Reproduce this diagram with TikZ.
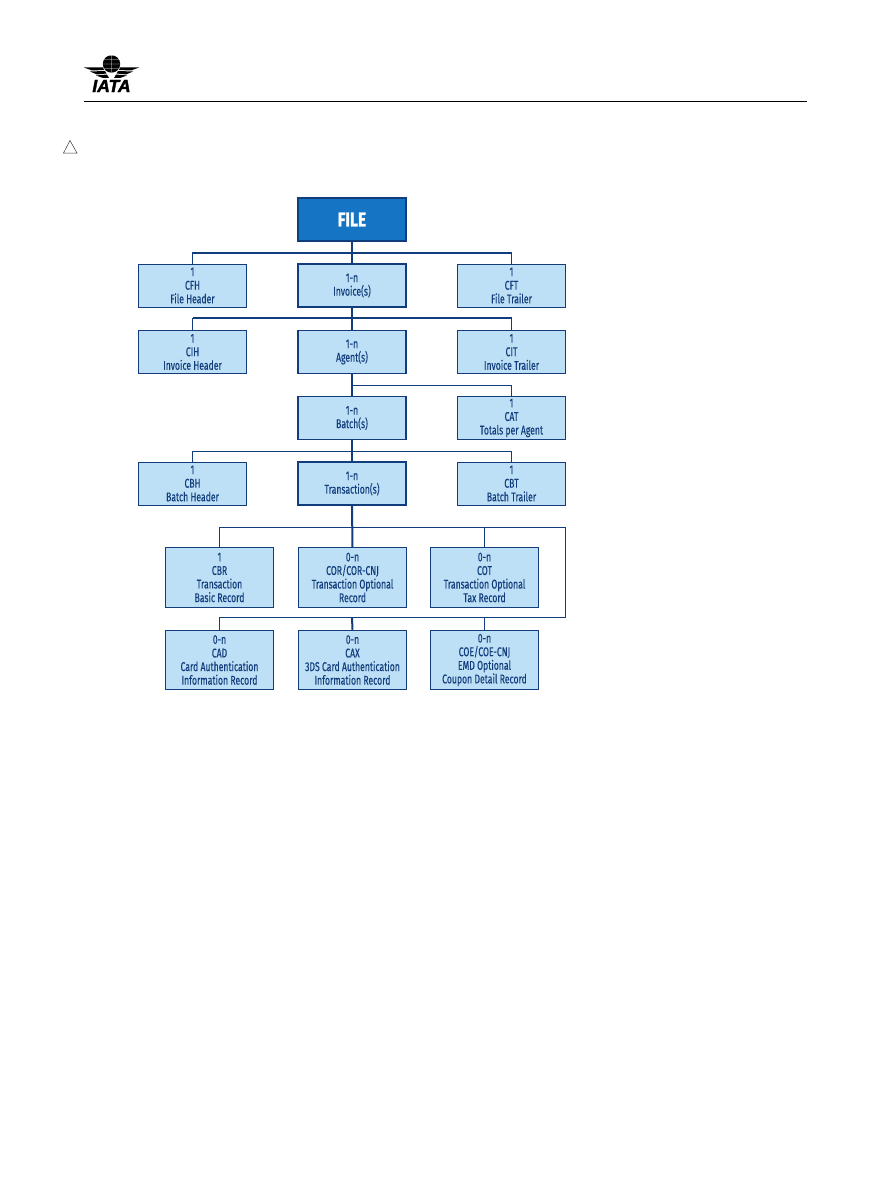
\documentclass[tikz,border=0pt]{standalone}
\usepackage{fontspec}
\setmainfont[FakeStretch=0.68,FakeBold=0.25]{Fira Sans}
\newfontfamily\filefont[FakeStretch=0.78,FakeBold=1]{Fira Sans}
\newfontfamily\logofont[FakeBold=2]{Liberation Sans}
\definecolor{rulecol}{HTML}{123D7C}
\definecolor{boxcol}{HTML}{BDE0F6}
\definecolor{filecol}{HTML}{1574C4}
\tikzset{
	recbox/.style={draw=rulecol,fill=boxcol,text=rulecol,line width=1pt,minimum width=108pt,align=center,inner sep=0pt,font=\fontsize{12.7}{13.6}\selectfont},
	smallbox/.style={recbox,minimum height=43pt},
	tallbox/.style={recbox,minimum height=59.5pt},
	mainbox/.style={smallbox,line width=1.6pt},
	bus/.style={draw=rulecol,line width=1pt},
	trunk/.style={draw=rulecol,line width=2pt}
}
\begin{document}
\begin{tikzpicture}[x=1pt,y=-1pt]
	\useasboundingbox (0,0) rectangle (891,1188);

	% page head
	\fill (84,67.5) -- (103,67.5) -- (104,70) -- (92,70.5) -- cycle;
	\fill (90,71.5) -- (105,71) -- (106.5,73.5) -- (97,74.5) -- cycle;
	\fill (96,75.5) -- (107,74.5) -- (109,78) -- (103,78) -- cycle;
	\fill (139,67.5) -- (120,67.5) -- (119,70) -- (131,70.5) -- cycle;
	\fill (133,71.5) -- (118,71) -- (116.5,73.5) -- (126,74.5) -- cycle;
	\fill (127,75.5) -- (116,74.5) -- (114,78) -- (120,78) -- cycle;
	\fill (111.5,64) circle (8.7);
	\draw [white,line width=.4pt] (111.5,55.3) -- (111.5,72.7) (102.8,64) -- (120.2,64) (104,59.5) -- (119,59.5) (104,68.5) -- (119,68.5) (111.5,55.3) arc [start angle=-90,end angle=90,x radius=4,y radius=-8.7] (111.5,55.3) arc [start angle=-90,end angle=-270,x radius=4,y radius=-8.7];
	\node (iata) at (111.5,86) {\logofont\fontsize{17.5}{17.5}\selectfont\bfseries\itshape IATA};
	\coordinate (headl) at (84,101.5);
	\coordinate (headr) at (807,101.5);
	\draw [line width=1pt] (headl) -- (headr);
	\draw [line width=.5pt,draw=black!80] (63.5,153) -- (70,140.5) -- (77,153) -- cycle;

	% records
	\node [mainbox,fill=filecol,text=white,line width=2pt,font=\filefont\fontsize{20}{20}\selectfont\bfseries] (file) at (352,219.5) {FILE};
	\node [smallbox] (cfh) at (192.5,285.5) {1\\CFH\\File Header};
	\node [mainbox] (invoice) at (352,285.5) {1-n\\Invoice(s)};
	\node [smallbox] (cft) at (511.5,285.5) {1\\CFT\\File Trailer};
	\node [smallbox] (cih) at (192.5,352) {1\\CIH\\Invoice Header};
	\node [mainbox] (agent) at (352,352) {1-n\\Agent(s)};
	\node [smallbox] (cit) at (511.5,352) {1\\CIT\\Invoice Trailer};
	\node [mainbox] (batch) at (352,418) {1-n\\Batch(s)};
	\node [smallbox] (cat) at (511.5,418) {1\\CAT\\Totals per Agent};
	\node [smallbox] (cbh) at (192.5,483.5) {1\\CBH\\Batch Header};
	\node [mainbox] (transaction) at (352,483.5) {1-n\\Transaction(s)};
	\node [smallbox] (cbt) at (511.5,483.5) {1\\CBT\\Batch Trailer};
	\node [tallbox] (cbr) at (219.5,577.5) {1\\CBR\\Transaction\\Basic Record};
	\node [tallbox] (cor) at (352.5,577.5) {0-n\\COR/COR-CNJ\\Transaction Optional\\Record};
	\node [tallbox] (cot) at (484.5,577.5) {0-n\\COT\\Transaction Optional\\Tax Record};
	\node [tallbox] (cad) at (219.5,660) {0-n\\CAD\\Card Authentication\\Information Record};
	\node [tallbox] (cax) at (352.5,660) {0-n\\CAX\\3DS Card Authentication\\Information Record};
	\node [tallbox] (coe) at (484.5,660) {0-n\\COE/COE-CNJ\\EMD Optional\\Coupon Detail Record};

	% junctions on the buses
	\coordinate (filebus) at (352,252.5);
	\coordinate (invoicebus) at (352,318);
	\coordinate (agentbus) at (352,385);
	\coordinate (batchbus) at (352,451.5);
	\coordinate (trbus) at (352,527.5);
	\coordinate (loopbus) at (352,617.5);
	\coordinate (loopup) at (565.5,527.5);
	\coordinate (loopdown) at (565.5,617.5);

	% connectors
	\draw [bus] (cfh.north) |- (filebus) -| (cft.north);
	\draw [bus,line width=2pt] (cfh.north |- filebus) -- (cft.north |- filebus);
	\draw [bus] (cih.north) |- (invoicebus) -| (cit.north);
	\draw [bus,line width=2pt] (cih.north |- invoicebus) -- (cit.north |- invoicebus);
	\draw [bus] (agentbus) -| (cat.north);
	\draw [bus] (cbh.north) |- (batchbus) -| (cbt.north);
	\draw [bus] (cbr.north) |- (trbus) -| (cot.north);
	\draw [bus] (trbus) -- (loopup) -- (loopdown) -- (loopbus);
	\draw [bus] (cad.north) |- (loopbus) -| (coe.north);
	\draw [trunk] (file.south) -- (invoice.north);
	\draw [trunk] (invoice.south) -- (agent.north);
	\draw [trunk] (agent.south) -- (batch.north);
	\draw [trunk] (batch.south) -- (transaction.north);
	\draw [trunk] (transaction.south) -- (cor.north);
	\draw [trunk] (loopbus) -- (cax.north);
\end{tikzpicture}
\end{document}
